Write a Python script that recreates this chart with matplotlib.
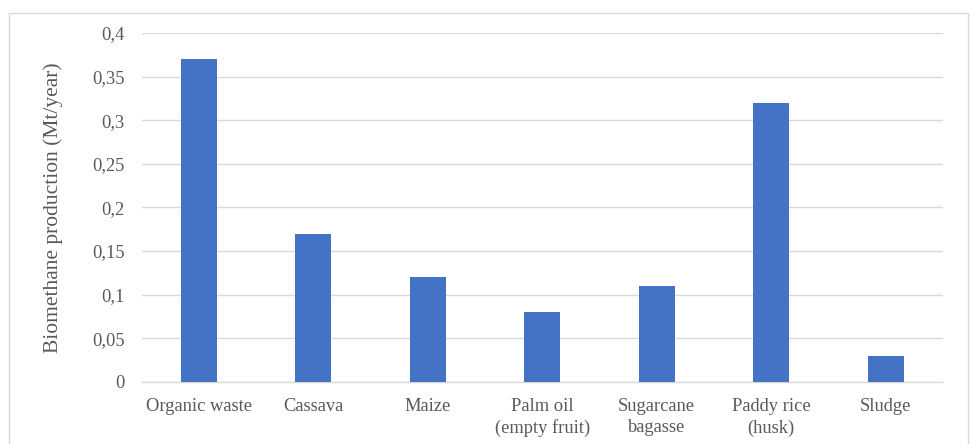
import matplotlib
matplotlib.use("Agg")
import matplotlib.pyplot as plt
from matplotlib.patches import Rectangle
from matplotlib.ticker import FuncFormatter

categories = ["Organic waste", "Cassava", "Maize", "Palm oil\n(empty fruit)",
              "Sugarcane\nbagasse", "Paddy rice\n(husk)", "Sludge"]
production = [0.37, 0.17, 0.12, 0.08, 0.11, 0.32, 0.03]
y_ticks = [0, 0.05, 0.1, 0.15, 0.2, 0.25, 0.3, 0.35, 0.4]

plt.rcParams["font.family"] = ["Liberation Serif", "DejaVu Serif"]
text_col = "#595959"
grid_col = "#D9D9D9"

fig = plt.figure(figsize=(9.78, 4.44), dpi=100)
# chart area border
fig.patches.append(Rectangle((9 / 978, -0.01), 959 / 978, (444 - 13) / 444 + 0.01,
                             transform=fig.transFigure, fill=False,
                             edgecolor=grid_col, linewidth=1))

ax = fig.add_axes([0.1447, 0.1403, 0.8195, 0.7854])
x = range(len(categories))
ax.bar(x, production, width=0.315, color="#4472C4", zorder=3)

ax.set_xlim(-0.5, len(categories) - 0.5)
ax.set_ylim(0, 0.4)
ax.set_yticks(y_ticks)
ax.yaxis.set_major_formatter(FuncFormatter(lambda v, p: ("%g" % v).replace(".", ",")))
ax.set_xticks(list(x))
ax.set_xticklabels(categories, va="top", linespacing=1.3)

ax.grid(axis="y", color=grid_col, linewidth=1, zorder=0)
for s in ["top", "right", "left"]:
    ax.spines[s].set_visible(False)
ax.spines["bottom"].set_color(grid_col)
ax.spines["bottom"].set_linewidth(1)
ax.tick_params(axis="both", length=0, labelsize=13.3, colors=text_col)
ax.tick_params(axis="x", pad=12)
ax.tick_params(axis="y", pad=12)

ax.set_ylabel("Biomethane production (Mt/year)", fontsize=15.5, color=text_col, labelpad=21)

fig.savefig("out.png", dpi=100)
